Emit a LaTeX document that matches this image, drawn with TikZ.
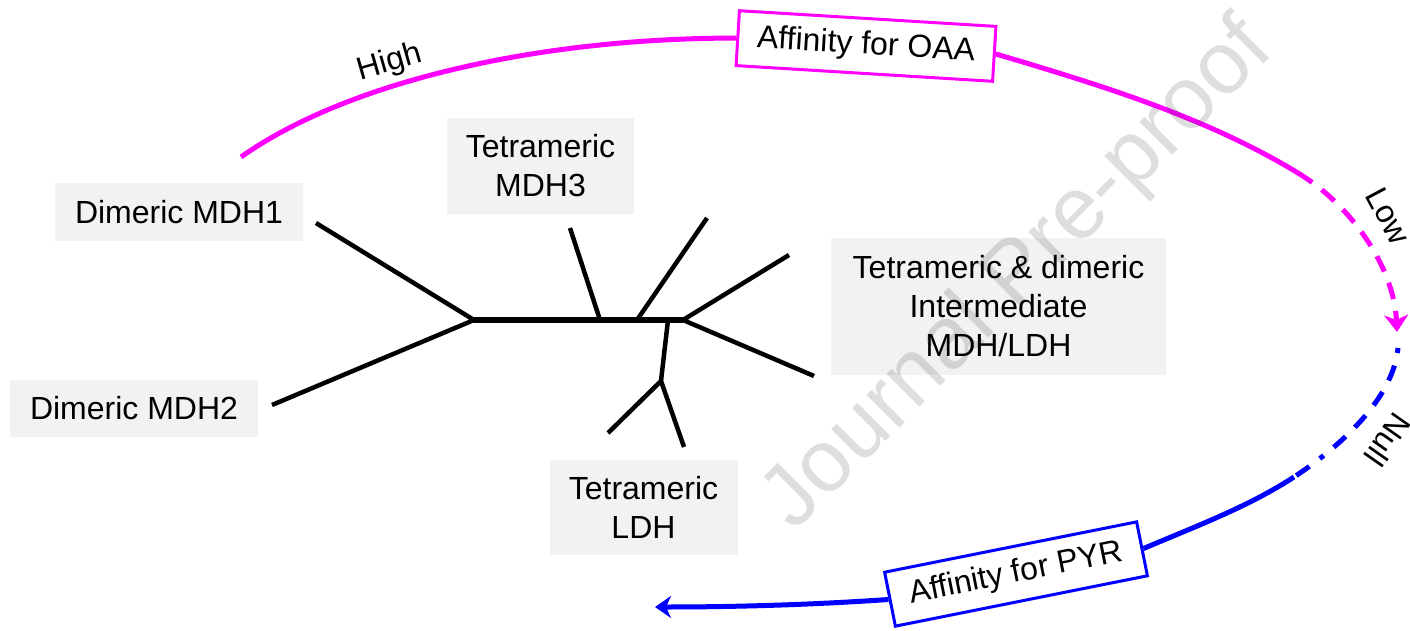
\documentclass[tikz,border=0pt]{standalone}
\usepackage{fontspec}
\setmainfont{Liberation Sans}
\usetikzlibrary{arrows.meta}
\definecolor{mag}{RGB}{255,0,255}
\definecolor{blu}{RGB}{0,0,255}
\definecolor{boxgray}{RGB}{242,242,242}
\begin{document}
\begin{tikzpicture}[x=1pt,y=-1pt,
  every node/.style={font=\fontsize{32}{39}\selectfont},
  graybox/.style={fill=boxgray, align=center, inner sep=0pt},
  branch/.style={line width=4.5pt},
  trunk/.style={line width=6.5pt},
  affbox/.style={draw, line width=3pt, fill=white, inner sep=0pt, minimum width=257pt, minimum height=55pt},
  magline/.style={mag, line width=5pt},
  bluline/.style={blu, line width=5pt},
  magdash/.style={magline, dash pattern=on 17pt off 12pt},
  bludash/.style={bluline, dash pattern=on 4pt off 14pt on 16pt off 14pt on 16pt off 14pt on 16pt off 14pt},
  lbl/.style={inner sep=0pt}]
\useasboundingbox (0,0) rectangle (1410,631);

% grey label boxes
\node[graybox, minimum width=248pt, minimum height=58pt] (mdh1) at (179,212) {Dimeric MDH1};
\node[graybox, minimum width=248pt, minimum height=57pt] (mdh2) at (134,408.5) {Dimeric MDH2};
\node[graybox, minimum width=187pt, minimum height=96pt] (mdh3) at (540.5,166) {Tetrameric\\MDH3};
\node[graybox, minimum width=335pt, minimum height=137pt] (inter) at (998.5,306) {Tetrameric \& dimeric\\Intermediate\\MDH/LDH};
\node[graybox, minimum width=188pt, minimum height=95pt] (ldh) at (643.5,507.5) {Tetrameric\\LDH};

% tree
\coordinate (A) at (474,320);
\coordinate (B) at (683,320);
\coordinate (C) at (661,381);
\coordinate (leaf1) at (316,223);
\coordinate (leaf2) at (272,405);
\coordinate (m3top) at (570,228);
\coordinate (m3bot) at (600,320);
\coordinate (t2top) at (707,218);
\coordinate (t2bot) at (637,320);
\coordinate (r1) at (789,255);
\coordinate (r2) at (814,376);
\coordinate (d0) at (668,320);
\coordinate (l1) at (608,433);
\coordinate (l2) at (684,447);
\draw[trunk] (A) -- (B);
\draw[branch] (leaf1) -- (A) -- (leaf2);
\draw[branch] (m3top) -- (m3bot);
\draw[branch] (t2top) -- (t2bot);
\draw[branch] (r1) -- (B) -- (r2);
\draw[branch] (d0) -- (C);
\draw[branch] (l1) -- (C) -- (l2);

% affinity boxes
\node[affbox, draw=mag, rotate=-3.5] (oaa) at (866,46) {Affinity for OAA};
\node[affbox, draw=blu, rotate=11.3] (pyr) at (1016,574) {Affinity for PYR};

% magenta arc
\coordinate (s1) at (241,157);
\coordinate (m1) at (1298,173);
\coordinate (mt) at (1397,332);
\draw[magline] (s1) .. controls (347,82) and (537,38) .. (oaa.west);
\draw[magline] (oaa.east) .. controls (1100,85) and (1206,117) .. (m1);
\draw[magdash, -{Stealth[length=17pt,width=24pt,inset=5pt]}] (m1) .. controls (1351,205) and (1394,267) .. (mt);

% blue arc
\coordinate (b1) at (1398,348);
\coordinate (b2) at (1294,477);
\coordinate (bt) at (655,607);
\draw[bluline, dash pattern=on 5pt off 13pt on 16pt off 13pt on 16pt off 13pt on 16pt off 13pt on 16pt off 13pt] (b1) .. controls (1393,400) and (1338,448) .. (b2);
\draw[bluline] (b2) .. controls (1248,507) and (1194,527) .. (pyr.east);
\draw[bluline, -{Stealth[length=16pt,width=22pt,inset=5pt]}] (pyr.west) .. controls (810,605) and (730,607) .. (bt);

% arc labels
\node[lbl, rotate=16] (high) at (390,63) {High};
\node[lbl, rotate=-62] (low) at (1388,216) {Low};
\node[lbl, rotate=-125] (null) at (1388,440) {Null};

% watermark
\node[text=black, text opacity=0.13, font=\fontsize{88}{88}\selectfont, rotate=45, inner sep=0pt] (wm) at (1019,276) {Journal Pre-proof};
\end{tikzpicture}
\end{document}
